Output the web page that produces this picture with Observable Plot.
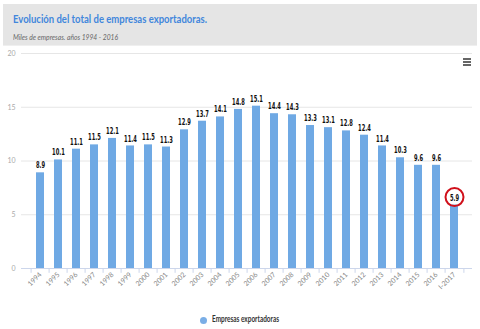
<!DOCTYPE html>
<html>
<head>
<meta charset="utf-8">
<script src="https://cdn.jsdelivr.net/npm/d3@7"></script>
<script src="https://cdn.jsdelivr.net/npm/@observablehq/plot@0.6"></script>
<style>
  html, body { margin: 0; padding: 0; background: #fff; }
  body { width: 480px; height: 329px; position: relative; overflow: hidden; font-family: Lato, "Open Sans", sans-serif; }
  #band { position: absolute; left: 3px; top: 4px; width: 474px; height: 41px; background: #e5e5e5; border-bottom: 1px solid #efefef; }
  #title { position: absolute; left: 13px; top: 12px; font-size: 11.5px; font-weight: bold; color: #4287dc; white-space: nowrap; transform-origin: left center; }
  #subtitle { position: absolute; left: 13px; top: 32px; font-size: 8px; font-style: italic; color: #666; white-space: nowrap; transform-origin: left center; }
  #chart { position: absolute; left: 0; top: 48px; }
  #menu { position: absolute; left: 463px; top: 58px; width: 8px; }
  #menu div { height: 1.5px; background: #666; margin-bottom: 1.6px; }
  #legend { position: absolute; left: 200px; top: 314px; height: 12px; white-space: nowrap; }
  #legend .dot { position: absolute; left: 0; top: 2.5px; width: 7px; height: 7px; border-radius: 50%; background: #7aaee6; }
  #legend .txt { position: absolute; left: 12px; top: 0; font-size: 8.5px; font-weight: bold; color: #333; white-space: nowrap; transform-origin: left center; }
</style>
</head>
<body>
<div id="band"></div>
<div id="title">Evolución del total de empresas exportadoras.</div>
<div id="subtitle">Miles de empresas. años 1994 - 2016</div>
<div id="chart"></div>
<div id="menu"><div></div><div></div><div></div></div>
<div id="legend"><span class="dot"></span><span class="txt">Empresas exportadoras</span></div>
<script>
const years = ["1994","1995","1996","1997","1998","1999","2000","2001","2002","2003","2004","2005","2006","2007","2008","2009","2010","2011","2012","2013","2014","2015","2016","I-2017"];
const values = [8.9,10.1,11.1,11.5,12.1,11.4,11.5,11.3,12.9,13.7,14.1,14.8,15.1,14.4,14.3,13.3,13.1,12.8,12.4,11.4,10.3,9.6,9.6,5.9];
const yTicks = [0,5,10,15,20];
const highlighted = ["I-2017"];

const data = years.map((y, i) => ({year: y, value: values[i]}));
const hl = data.filter(d => highlighted.includes(d.year));

const W = 480, ML = 21, MR = 8, pIn = 0.57, pOut = 0.28;
const step = (W - ML - MR) / (years.length - pIn + 2 * pOut);

const chart = Plot.plot({
  width: W,
  height: 257,
  marginTop: 5,
  marginBottom: 37,
  marginLeft: ML,
  marginRight: MR,
  style: { fontFamily: "Lato, 'Open Sans', sans-serif", background: "transparent", overflow: "visible" },
  x: { domain: years, paddingInner: pIn, paddingOuter: pOut, label: null },
  y: { domain: [0, 20], label: null },
  marks: [
    Plot.gridY(yTicks.filter(t => t > 0), { stroke: "#e6e6e6", strokeOpacity: 1 }),
    Plot.axisY({ ticks: yTicks, tickSize: 0, tickPadding: 6, fontSize: 7, fill: "#aaa", label: null }),
    Plot.barY(data, { x: "year", y: "value", fill: "#6fa9e4" }),
    Plot.ruleY([0], { stroke: "#ccd6eb" }),
    Plot.ruleX(years, { x: d => d, y1: 0, y2: -0.45, dx: -step / 2, stroke: "#ccd6eb" }),
    Plot.ruleX([years[years.length - 1]], { x: d => d, y1: 0, y2: -0.45, dx: step / 2, stroke: "#ccd6eb" }),
    Plot.axisX({ tickSize: 0, tickRotate: -45, tickPadding: 5, fontSize: 7, fill: "#888", label: null }),
    Plot.text(data, { x: "year", y: "value", text: d => d.value.toFixed(1), dy: -7, fontSize: 8, fontWeight: "bold", fill: "#111",
      fontFamily: "'DejaVu Sans Condensed', sans-serif", className: "vlabel" }),
    Plot.dot(hl, { x: "year", y: "value", dy: -8, r: 9, stroke: "#d0101b", strokeWidth: 2, fill: "none" })
  ]
});
document.getElementById("chart").appendChild(chart);

// narrow the value labels like the condensed font of the reference
chart.querySelectorAll(".vlabel text").forEach(t => {
  const w = t.getComputedTextLength();
  t.setAttribute("textLength", (w * 0.72).toFixed(2));
  t.setAttribute("lengthAdjust", "spacingAndGlyphs");
});

function fit(id, sel, target) {
  const el = sel ? document.querySelector(sel) : document.getElementById(id);
  const w = el.getBoundingClientRect().width;
  el.style.transform = `scaleX(${target / w})`;
}
fit("title", null, 194);
fit("subtitle", null, 105);
fit(null, "#legend .txt", 67);
</script>
</body>
</html>
